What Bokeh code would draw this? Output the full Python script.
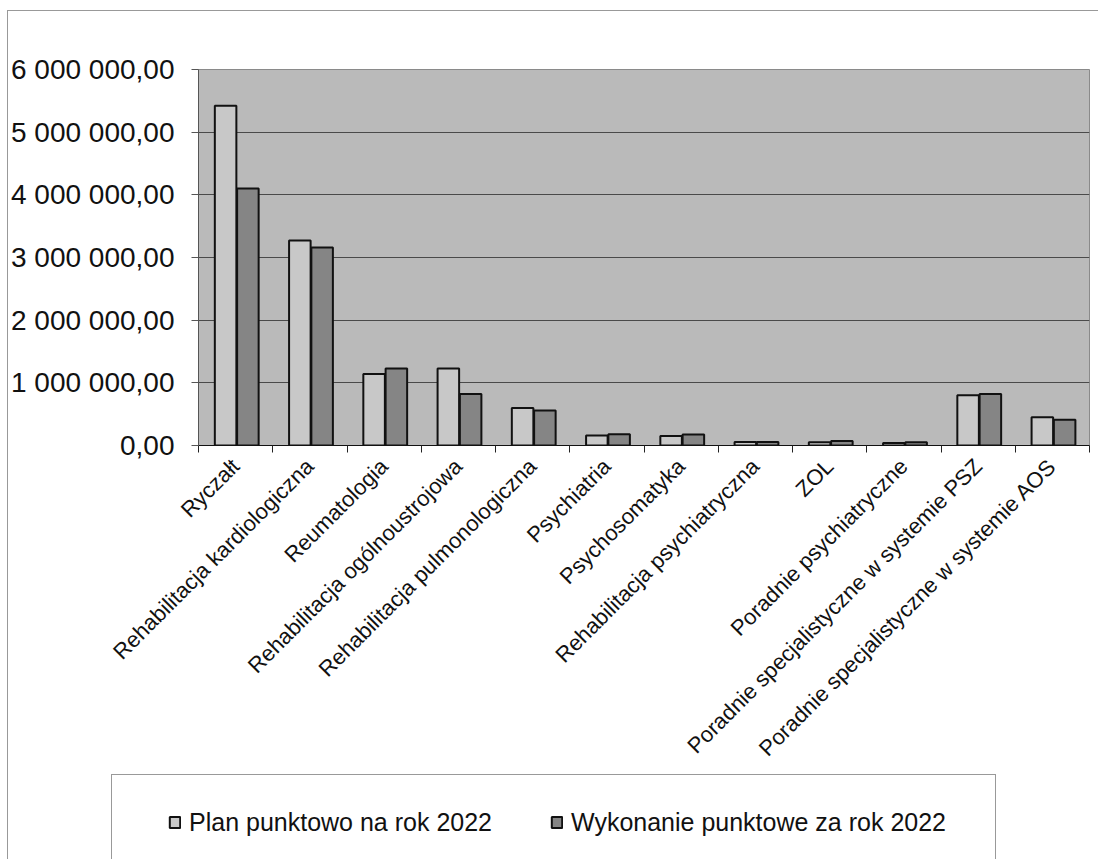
import numpy as np
from bokeh.plotting import figure
from bokeh.layouts import column, row
from bokeh.models import (FixedTicker, CustomJSTickFormatter, Legend, LegendItem,
                          ColumnDataSource, Range1d, Spacer, BoxAnnotation)
from bokeh.embed import file_html
from bokeh.resources import INLINE

categories = [
    "Ryczałt",
    "Rehabilitacja kardiologiczna",
    "Reumatologia",
    "Rehabilitacja ogólnoustrojowa",
    "Rehabilitacja pulmonologiczna",
    "Psychiatria",
    "Psychosomatyka",
    "Rehabilitacja psychiatryczna",
    "ZOL",
    "Poradnie psychiatryczne",
    "Poradnie specjalistyczne w systemie PSZ",
    "Poradnie specjalistyczne w systemie AOS",
]
plan = [5420000, 3270000, 1140000, 1230000, 600000, 160000, 150000, 55000, 50000, 40000, 800000, 450000]
wykonanie = [4100000, 3160000, 1230000, 820000, 560000, 180000, 175000, 55000, 70000, 50000, 820000, 410000]
series_names = ["Plan punktowo na rok 2022", "Wykonanie punktowe za rok 2022"]
y_ticks = [0, 1000000, 2000000, 3000000, 4000000, 5000000, 6000000]

PLAN_FILL = "#c8c8c8"
WYK_FILL = "#858585"
BAR_LINE = "#111111"
FONT = "Liberation Sans"
BORDER = "1px solid #999999"

n = len(categories)
centers = np.arange(n) + 0.5
bw = 0.29
src = ColumnDataSource(dict(
    xp=centers - bw / 2 + 0.01,
    xw=centers + bw / 2 + 0.02,
    plan=plan, wyk=wykonanie,
))

p = figure(width=1090, height=763, output_backend="svg", toolbar_location=None,
           x_range=Range1d(0, n), y_range=Range1d(0, 6000000),
           min_border_left=187, min_border_right=9, min_border_top=58, min_border_bottom=329)
p.background_fill_color = "#bababa"
p.border_fill_color = "white"
p.outline_line_color = "#8a8a8a"

p.vbar(x="xp", top="plan", width=bw, bottom=0, source=src,
       fill_color=PLAN_FILL, line_color=BAR_LINE, line_width=2)
p.vbar(x="xw", top="wyk", width=bw, bottom=0, source=src,
       fill_color=WYK_FILL, line_color=BAR_LINE, line_width=2)

# y axis
p.yaxis.ticker = FixedTicker(ticks=y_ticks)
p.yaxis.formatter = CustomJSTickFormatter(code="""
const s = Math.round(tick).toString().replace(/\\B(?=(\\d{3})+(?!\\d))/g, " ");
return s + ",00";
""")
p.yaxis.major_label_text_font = FONT
p.yaxis.major_label_text_font_size = "28px"
p.yaxis.major_label_text_color = "#111111"
p.yaxis.major_tick_out = 7
p.yaxis.major_tick_in = 0
p.yaxis.minor_tick_out = 0
p.yaxis.minor_tick_in = 0
p.yaxis.major_label_standoff = 17
p.yaxis.axis_line_color = "#555555"
p.yaxis.major_tick_line_color = "#555555"

# x axis: labels at category centres, tick marks at category boundaries
p.xaxis.ticker = FixedTicker(ticks=list(centers), minor_ticks=list(range(n + 1)))
p.xaxis.formatter = CustomJSTickFormatter(args=dict(labels=categories),
                                          code="return labels[Math.floor(tick)];")
p.xaxis.major_label_orientation = np.pi / 4
p.xaxis.major_label_text_font = FONT
p.xaxis.major_label_text_font_size = "22px"
p.xaxis.major_label_text_color = "#111111"
p.xaxis.major_tick_out = 0
p.xaxis.major_tick_in = 0
p.xaxis.minor_tick_out = 7
p.xaxis.minor_tick_in = 0
p.xaxis.minor_tick_line_color = "#222222"
p.xaxis.axis_line_color = "#111111"
p.xaxis.major_label_standoff = 10

p.xgrid.grid_line_color = None
p.ygrid.ticker = FixedTicker(ticks=y_ticks)
p.ygrid.grid_line_color = "#4a4a4a"
p.ygrid.grid_line_width = 1

# legend box as its own small figure
lg = figure(width=885, height=85, output_backend="svg", toolbar_location=None,
            x_range=Range1d(0, 1), y_range=Range1d(0, 1),
            x_axis_type=None, y_axis_type=None, min_border=0,
            styles={"border-left": BORDER, "border-top": BORDER, "border-right": BORDER})
lg.grid.grid_line_color = None
lg.outline_line_color = None
lg.background_fill_color = "white"
# swatch renderers: covered by a white box, they only feed the legend swatches
d1 = lg.vbar(x=[0.5], top=[0.55], bottom=0.45, width=0.01,
             fill_color=PLAN_FILL, line_color=BAR_LINE, line_width=2)
d2 = lg.vbar(x=[0.5], top=[0.55], bottom=0.45, width=0.01,
             fill_color=WYK_FILL, line_color=BAR_LINE, line_width=2)
lg.add_layout(BoxAnnotation(fill_color="white", fill_alpha=1.0, line_color=None))
legend = Legend(items=[LegendItem(label=series_names[0], renderers=[d1]),
                       LegendItem(label=series_names[1], renderers=[d2])],
                location=(56, 23), orientation="horizontal",
                padding=0, margin=0, spacing=58, label_standoff=8,
                glyph_width=13, glyph_height=14, label_height=30,
                label_text_font=FONT, label_text_font_size="25px",
                label_text_color="#111111",
                border_line_color=None, background_fill_color=None)
lg.add_layout(legend, "center")

layout = column(p, row(Spacer(width=103, height=85), lg),
                styles={"border-left": BORDER, "border-top": BORDER,
                        "margin-left": "7px", "margin-top": "10px"})

open("out.html", "w").write(file_html(layout, INLINE))
